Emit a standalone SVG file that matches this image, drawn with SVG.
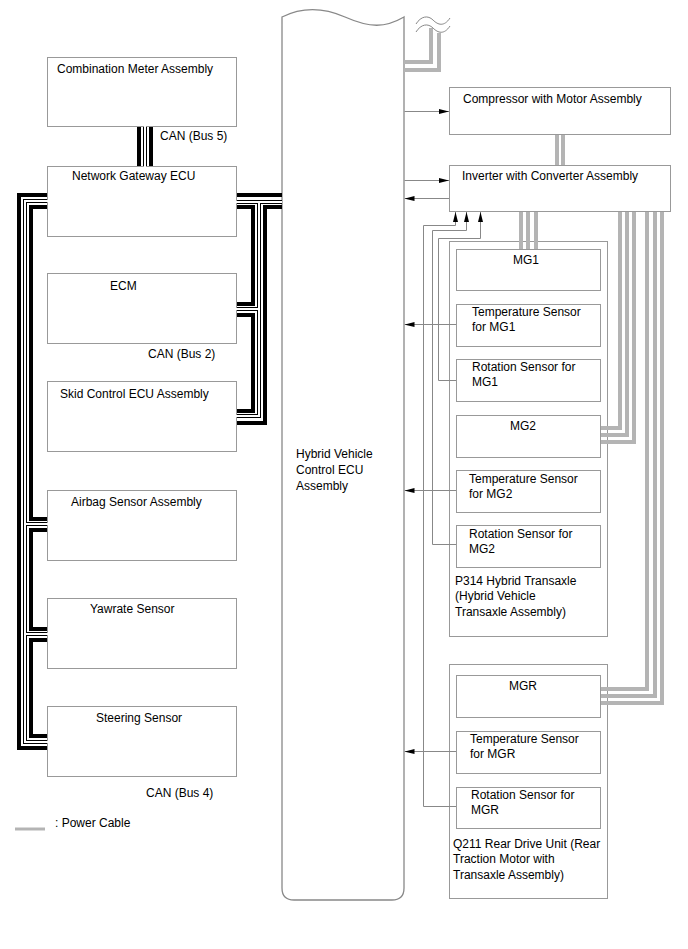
<svg xmlns="http://www.w3.org/2000/svg" width="688" height="949" viewBox="0 0 688 949">
<defs>
<style>
.box{fill:#fff;stroke:#999;stroke-width:1}
.t{font-family:"Liberation Sans",Arial,sans-serif;font-size:12px;fill:#000}
.sig{fill:none;stroke:#888;stroke-width:1}
.pw{fill:none;stroke:#b4b4b4;stroke-width:4}
.thick{fill:none;stroke:#000;stroke-width:4}
.hb{fill:none;stroke:#000;stroke-width:4}
.hw{fill:none;stroke:#fff;stroke-width:2}
.wave{fill:none;stroke:#888;stroke-width:1}
</style>
<marker id="ah" markerWidth="10" markerHeight="6" refX="10" refY="3" orient="auto" markerUnits="userSpaceOnUse"><path d="M0,0.5 L10,3 L0,5.5 Z" fill="#000"/></marker>
</defs>
<rect width="688" height="949" fill="#fff"/>

<g id="hybrid-ecu">
<path d="M282,17 C300,8 320,6 345,17 S385,28 404,17 L404,888 Q404,900 392,900 L294,900 Q282,900 282,888 Z" fill="#fff" stroke="#888" stroke-width="1.3"/>
<text class="t" x="296" y="458">Hybrid Vehicle</text>
<text class="t" x="296" y="474">Control ECU</text>
<text class="t" x="296" y="490">Assembly</text>
</g>

<g id="combination-meter"><rect class="box" x="47.5" y="57.5" width="189" height="69"/><text class="t" x="57" y="73">Combination Meter Assembly</text></g>
<g id="network-gateway"><rect class="box" x="47.5" y="166.5" width="189" height="70"/><text class="t" x="72" y="180">Network Gateway ECU</text></g>
<g id="ecm"><rect class="box" x="47.5" y="273.5" width="189" height="70"/><text class="t" x="110" y="290">ECM</text></g>
<g id="skid-control"><rect class="box" x="47.5" y="381.5" width="189" height="70"/><text class="t" x="60" y="398">Skid Control ECU Assembly</text></g>
<g id="airbag"><rect class="box" x="47.5" y="490.5" width="189" height="70"/><text class="t" x="71" y="506">Airbag Sensor Assembly</text></g>
<g id="yawrate"><rect class="box" x="47.5" y="598.5" width="189" height="70"/><text class="t" x="90" y="613">Yawrate Sensor</text></g>
<g id="steering"><rect class="box" x="47.5" y="706.5" width="189" height="70"/><text class="t" x="96" y="722">Steering Sensor</text></g>

<g id="compressor"><rect class="box" x="449.5" y="87.5" width="221" height="47"/><text class="t" x="463" y="103">Compressor with Motor Assembly</text></g>
<g id="inverter"><rect class="box" x="449.5" y="165.5" width="221" height="46"/><text class="t" x="462" y="180">Inverter with Converter Assembly</text></g>

<g id="p314">
<rect class="box" x="449.5" y="241.5" width="158" height="395"/>
<text class="t" x="455" y="585">P314 Hybrid Transaxle</text>
<text class="t" x="455" y="600">(Hybrid Vehicle</text>
<text class="t" x="455" y="616">Transaxle Assembly)</text>
</g>
<g id="q211">
<rect class="box" x="449.5" y="664.5" width="158" height="234"/>
<text class="t" x="453" y="848">Q211 Rear Drive Unit (Rear</text>
<text class="t" x="453" y="863">Traction Motor with</text>
<text class="t" x="453" y="879">Transaxle Assembly)</text>
</g>

<g id="mg1"><rect class="box" x="456.5" y="249.5" width="144" height="41"/><text class="t" x="513" y="264">MG1</text></g>
<g id="temp-mg1"><rect class="box" x="456.5" y="304.5" width="144" height="42"/><text class="t" x="472" y="316">Temperature Sensor</text><text class="t" x="472" y="331">for MG1</text></g>
<g id="rot-mg1"><rect class="box" x="456.5" y="359.5" width="144" height="42"/><text class="t" x="472" y="371">Rotation Sensor for</text><text class="t" x="472" y="386">MG1</text></g>
<g id="mg2"><rect class="box" x="456.5" y="415.5" width="144" height="42"/><text class="t" x="510" y="430">MG2</text></g>
<g id="temp-mg2"><rect class="box" x="456.5" y="470.5" width="144" height="42"/><text class="t" x="469" y="483">Temperature Sensor</text><text class="t" x="469" y="498">for MG2</text></g>
<g id="rot-mg2"><rect class="box" x="456.5" y="525.5" width="144" height="42"/><text class="t" x="469" y="538">Rotation Sensor for</text><text class="t" x="469" y="553">MG2</text></g>
<g id="mgr"><rect class="box" x="456.5" y="675.5" width="144" height="42"/><text class="t" x="509" y="690">MGR</text></g>
<g id="temp-mgr"><rect class="box" x="456.5" y="731.5" width="144" height="42"/><text class="t" x="470" y="743">Temperature Sensor</text><text class="t" x="470" y="758">for MGR</text></g>
<g id="rot-mgr"><rect class="box" x="456.5" y="787.5" width="144" height="41"/><text class="t" x="471" y="799">Rotation Sensor for</text><text class="t" x="471" y="814">MGR</text></g>

<g id="connectors">
<!-- CAN bus 5 -->
<path class="thick" d="M139,127 V166"/>
<path class="hb" d="M145,127 V166"/>
<path class="thick" d="M151,127 V166"/>
<!-- CAN bus 2 (right side) -->
<path class="thick" d="M237,195 H282"/>
<path class="thick" d="M237,207 H253 V304 H237"/>
<path class="thick" d="M237,315 H253 V411 H237"/>
<path class="thick" d="M282,207 H265 V423 H237"/>
<path class="hb" d="M237,202 H282 M259,202 V416 H237 M259,309 H237"/>
<!-- CAN bus 4 (left side) -->
<path class="thick" d="M47,195 H19 V748 H47"/>
<path class="thick" d="M47,207 H31 V519 H47"/>
<path class="thick" d="M47,530 H31 V629 H47"/>
<path class="thick" d="M47,640 H31 V736 H47"/>
<path class="hb" d="M47,201 H25 V742 H47 M25,524 H47 M25,634 H47"/>
<!-- hollow whites -->
<path class="hw" d="M145,126 V167"/>
<path class="hw" d="M236,202 H282 M259,202 V416 H236 M259,309 H236"/>
<path class="hw" d="M48,201 H25 V742 H48 M25,524 H48 M25,634 H48"/>

<!-- power cables -->
<path class="pw" d="M404,62 H431 V28"/>
<path class="pw" d="M404,70 H439 V33"/>
<path class="pw" d="M557,135 V165 M563,135 V165"/>
<path class="pw" d="M521,212 V249 M528,212 V249 M536,212 V249"/>
<path class="pw" d="M620,212 V428 H601"/>
<path class="pw" d="M627,212 V435 H601"/>
<path class="pw" d="M634,212 V442 H601"/>
<path class="pw" d="M647,212 V689 H601"/>
<path class="pw" d="M655,212 V696 H601"/>
<path class="pw" d="M662,212 V703 H601"/>
<path class="wave" d="M416,24 C421,16 428,15 433,20 S444,27 450,18"/>
<path class="wave" d="M416,32 C421,24 428,23 433,28 S444,35 450,26"/>

<!-- signal lines -->
<path class="sig" marker-end="url(#ah)" d="M404.5,111.5 H449"/>
<path class="sig" marker-end="url(#ah)" d="M404.5,180.5 H449"/>
<path class="sig" marker-end="url(#ah)" d="M449,198.5 H404.5"/>
<path class="sig" marker-end="url(#ah)" d="M456,324.5 H404.5"/>
<path class="sig" marker-end="url(#ah)" d="M456,490.5 H404.5"/>
<path class="sig" marker-end="url(#ah)" d="M456,751.5 H404.5"/>
<path class="sig" marker-end="url(#ah)" d="M456,806.5 H423.5 V225.5 H455.5 V212"/>
<path class="sig" marker-end="url(#ah)" d="M456,544.5 H432.5 V230.5 H466.5 V212"/>
<path class="sig" marker-end="url(#ah)" d="M456,380.5 H438.5 V238.5 H480.5 V212"/>
</g>

<g id="labels">
<text class="t" x="160" y="140">CAN (Bus 5)</text>
<text class="t" x="148" y="358">CAN (Bus 2)</text>
<text class="t" x="146" y="797">CAN (Bus 4)</text>
</g>
<g id="legend">
<line x1="15" y1="829" x2="45" y2="829" stroke="#b4b4b4" stroke-width="3"/>
<text class="t" x="55" y="827">: Power Cable</text>
</g>
</svg>
